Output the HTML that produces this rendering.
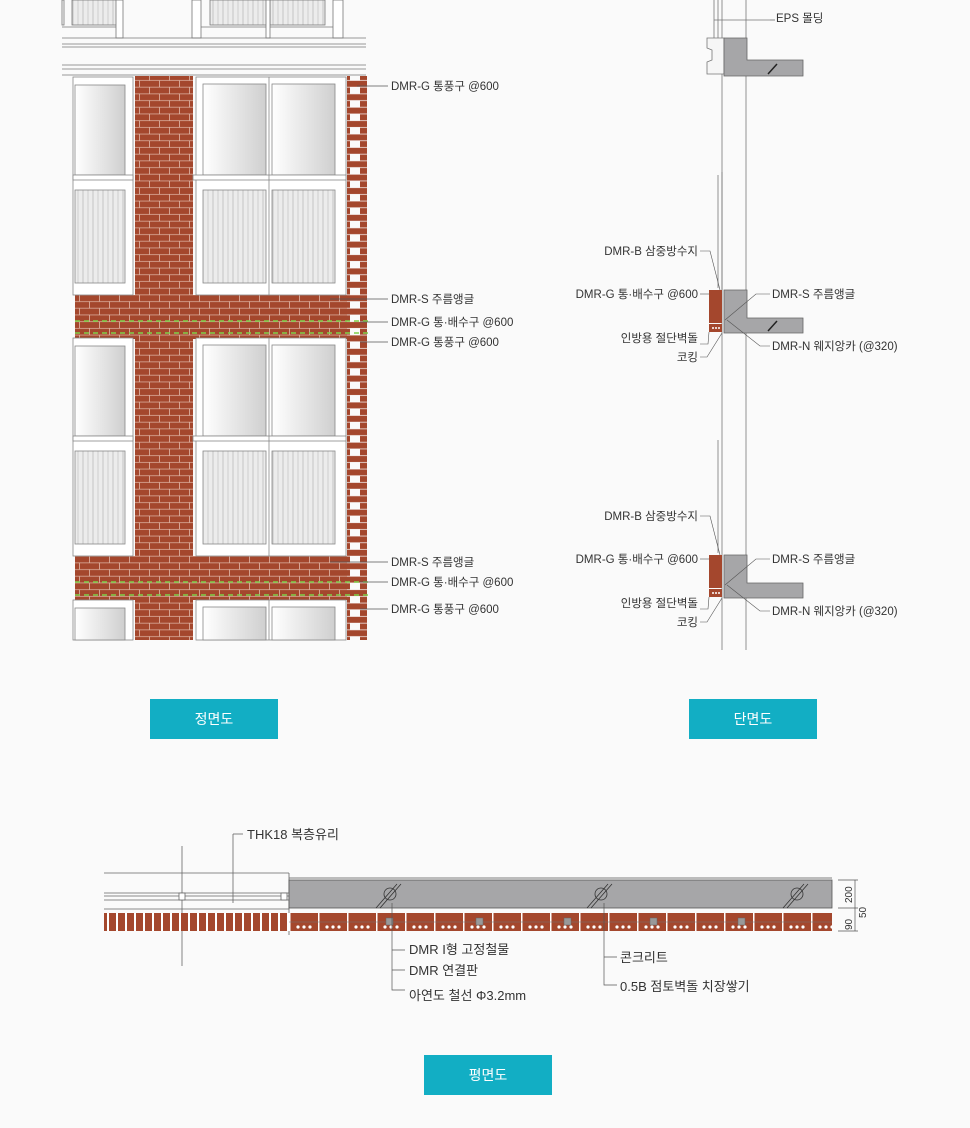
<!DOCTYPE html>
<html><head><meta charset="utf-8"><style>
html,body{margin:0;padding:0;background:#fafafa;}
svg{display:block;font-family:"Liberation Sans","Noto Sans CJK KR",sans-serif;}
.l{font-size:11.5px;fill:#333;}
.btn{font-size:14px;fill:#fff;}
</style></head><body>
<svg width="970" height="1128" viewBox="0 0 970 1128" xmlns="http://www.w3.org/2000/svg">
<defs>
<pattern id="brick" width="40" height="13.4" patternUnits="userSpaceOnUse">
<rect width="40" height="13.4" fill="#e2b9aa"/>
<rect x="0" y="0.4" width="19.2" height="6" fill="#a4472d"/>
<rect x="20" y="0.4" width="19.2" height="6" fill="#a4472d"/>
<rect x="-10" y="7.1" width="19.2" height="6" fill="#a4472d"/>
<rect x="10" y="7.1" width="19.2" height="6" fill="#a4472d"/>
<rect x="30" y="7.1" width="19.2" height="6" fill="#a4472d"/>
</pattern>
<pattern id="tooth" width="20" height="13.4" patternUnits="userSpaceOnUse">
<rect x="0" y="0.4" width="20" height="6" fill="#a4472d"/>
<rect x="0" y="7.1" width="10" height="6" fill="#a4472d"/>
</pattern>
<linearGradient id="gl" x1="0" x2="1"><stop offset="0" stop-color="#fff"/><stop offset="1" stop-color="#cfcfcf"/></linearGradient>
<pattern id="rail" width="10" height="10" patternUnits="userSpaceOnUse"><rect width="10" height="10" fill="#ececec"/><line x1="3" y1="0" x2="3" y2="10" stroke="#aaa" stroke-width="0.6"/><line x1="8" y1="0" x2="8" y2="10" stroke="#bbb" stroke-width="0.6"/></pattern>
<pattern id="pb" width="29" height="18" patternUnits="userSpaceOnUse"><rect width="29" height="18" fill="#fff"/><rect x="0.5" width="27.5" height="18" fill="#a4472d"/><circle cx="8" cy="9" r="1.6" fill="#fff"/><circle cx="14" cy="9" r="1.6" fill="#fff"/><circle cx="20" cy="9" r="1.6" fill="#fff"/></pattern>
<pattern id="pb2" width="9" height="18" patternUnits="userSpaceOnUse"><rect width="9" height="18" fill="#fff"/><rect x="1" width="7" height="18" fill="#a4472d"/></pattern>
</defs>

<!-- ===== FRONT ELEVATION ===== -->
<g stroke="#777" stroke-width="0.8" fill="none">
<rect x="62" y="0" width="2" height="25"/>
<rect x="72" y="0" width="45" height="25" fill="url(#rail)"/>
<line x1="62" y1="27" x2="116" y2="27"/>
<rect x="116" y="0" width="7" height="38" fill="#fff"/>
<rect x="192" y="0" width="9" height="38" fill="#fff"/>
<rect x="210" y="0" width="57" height="25" fill="url(#rail)"/>
<rect x="270" y="0" width="55" height="25" fill="url(#rail)"/>
<line x1="201" y1="27" x2="335" y2="27"/>
<rect x="266" y="0" width="4" height="38" fill="#fff"/>
<rect x="333" y="0" width="10" height="38" fill="#fff"/>
<line x1="62" y1="38" x2="366" y2="38"/><line x1="62" y1="44" x2="366" y2="44"/><line x1="62" y1="47" x2="366" y2="47"/>
<line x1="62" y1="65" x2="366" y2="65"/><line x1="62" y1="69" x2="366" y2="69"/><line x1="62" y1="75" x2="366" y2="75"/>
</g>
<rect x="135" y="76" width="58" height="564" fill="url(#brick)"/>
<rect x="347" y="76" width="20" height="564" fill="url(#tooth)"/>
<rect x="75" y="295" width="272" height="44" fill="url(#brick)"/>
<rect x="75" y="556" width="272" height="44" fill="url(#brick)"/>
<g stroke="#888" stroke-width="0.8">
<rect x="73" y="77" width="60" height="218" fill="#fff"/>
<rect x="75" y="85" width="50" height="90" fill="url(#gl)"/>
<rect x="73" y="175" width="60" height="5" fill="#fff"/>
<rect x="75" y="190" width="50" height="93" fill="url(#rail)"/>
<rect x="196" y="77" width="150" height="218" fill="#fff"/>
<rect x="203" y="84" width="63" height="91" fill="url(#gl)"/>
<rect x="272" y="84" width="63" height="91" fill="url(#gl)"/>
<rect x="193" y="175" width="153" height="5" fill="#fff"/>
<rect x="203" y="190" width="63" height="93" fill="url(#rail)"/>
<rect x="272" y="190" width="63" height="93" fill="url(#rail)"/>
<line x1="269" y1="77" x2="269" y2="295"/>
</g>
<g stroke="#888" stroke-width="0.8">
<rect x="73" y="338" width="60" height="218" fill="#fff"/>
<rect x="75" y="346" width="50" height="90" fill="url(#gl)"/>
<rect x="73" y="436" width="60" height="5" fill="#fff"/>
<rect x="75" y="451" width="50" height="93" fill="url(#rail)"/>
<rect x="196" y="338" width="150" height="218" fill="#fff"/>
<rect x="203" y="345" width="63" height="91" fill="url(#gl)"/>
<rect x="272" y="345" width="63" height="91" fill="url(#gl)"/>
<rect x="193" y="436" width="153" height="5" fill="#fff"/>
<rect x="203" y="451" width="63" height="93" fill="url(#rail)"/>
<rect x="272" y="451" width="63" height="93" fill="url(#rail)"/>
<line x1="269" y1="338" x2="269" y2="556"/>
<rect x="73" y="600" width="60" height="40" fill="#fff"/>
<rect x="75" y="608" width="50" height="32" fill="url(#gl)"/>
<rect x="196" y="600" width="150" height="40" fill="#fff"/>
<rect x="203" y="607" width="63" height="33" fill="url(#gl)"/>
<rect x="272" y="607" width="63" height="33" fill="url(#gl)"/>
<line x1="269" y1="600" x2="269" y2="640"/>
</g>
<g stroke="#7ed04a" stroke-width="1.5" stroke-dasharray="5,4">
<line x1="75" y1="321" x2="370" y2="321"/><line x1="75" y1="333" x2="370" y2="333"/>
<line x1="75" y1="582" x2="370" y2="582"/><line x1="75" y1="595" x2="370" y2="595"/>
</g>
<g stroke="#555" stroke-width="0.7">
<line x1="357" y1="86" x2="388" y2="86"/>
<line x1="330" y1="299" x2="388" y2="299"/>
<line x1="360" y1="322" x2="388" y2="322"/>
<line x1="360" y1="342" x2="388" y2="342"/>
<line x1="330" y1="562" x2="388" y2="562"/>
<line x1="360" y1="582" x2="388" y2="582"/>
<line x1="360" y1="609" x2="388" y2="609"/>
</g>
<g class="l">
<text x="391" y="90">DMR-G 통풍구 @600</text>
<text x="391" y="303">DMR-S 주름앵글</text>
<text x="391" y="326">DMR-G 통·배수구 @600</text>
<text x="391" y="346">DMR-G 통풍구 @600</text>
<text x="391" y="566">DMR-S 주름앵글</text>
<text x="391" y="586">DMR-G 통·배수구 @600</text>
<text x="391" y="613">DMR-G 통풍구 @600</text>
</g>

<!-- ===== SECTION ===== -->
<g stroke="#777" stroke-width="0.8" fill="none">
<line x1="722" y1="0" x2="722" y2="650"/>
<line x1="746" y1="0" x2="746" y2="650"/>
<line x1="714" y1="0" x2="714" y2="20"/><line x1="718" y1="0" x2="718" y2="38"/>
<path d="M714 20 L714 38 M714 20 L770 20"/>
<line x1="718" y1="175" x2="718" y2="288"/><line x1="722" y1="172" x2="722" y2="290"/>
<line x1="718" y1="440" x2="718" y2="553"/>
</g>
<path d="M707 38 L724 38 L724 74 L707 74 L707 62 L712 60 L712 50 L707 48 Z" fill="#f6f6f6" stroke="#777" stroke-width="0.8"/>
<path d="M724 38 L747 38 L747 60 L803 60 L803 76 L724 76 Z" fill="#a6a6a8" stroke="#666" stroke-width="0.8"/>
<line x1="768" y1="74" x2="777" y2="64" stroke="#222" stroke-width="1.5"/>
<line x1="770" y1="20" x2="775" y2="20" stroke="#555" stroke-width="0.7"/>
<text class="l" x="776" y="22">EPS 몰딩</text>

<g>
<path d="M724 290 L747 290 L747 318 L803 318 L803 333 L724 333 Z" fill="#a6a6a8" stroke="#666" stroke-width="0.8"/>
<line x1="768" y1="331" x2="777" y2="321" stroke="#222" stroke-width="1.5"/>
<rect x="709" y="290" width="13" height="33" fill="#a4472d"/>
<rect x="709" y="324" width="13" height="8" fill="#a4472d"/>
<g fill="#fff"><circle cx="713" cy="328" r="1"/><circle cx="716" cy="328" r="1"/><circle cx="719" cy="328" r="1"/></g>
<g stroke="#555" stroke-width="0.6" fill="none">
<path d="M700 251 L710 251 L720 290"/>
<path d="M700 294 L709 294"/>
<path d="M770 294 L756 294 L725 320"/>
<path d="M700 344 L708 344 L709 332"/>
<path d="M700 357 L707 357 L722 333"/>
<path d="M770 346 L760 346 L727 320"/>
</g>
</g>
<g class="l" text-anchor="end">
<text x="698" y="255">DMR-B 삼중방수지</text>
<text x="698" y="298">DMR-G 통·배수구 @600</text>
<text x="698" y="342">인방용 절단벽돌</text>
<text x="698" y="361">코킹</text>
</g>
<g class="l"><text x="772" y="298">DMR-S 주름앵글</text><text x="772" y="350">DMR-N 웨지앙카 (@320)</text></g>

<g transform="translate(0,265)">
<path d="M724 290 L747 290 L747 318 L803 318 L803 333 L724 333 Z" fill="#a6a6a8" stroke="#666" stroke-width="0.8"/>
<rect x="709" y="290" width="13" height="33" fill="#a4472d"/>
<rect x="709" y="324" width="13" height="8" fill="#a4472d"/>
<g fill="#fff"><circle cx="713" cy="328" r="1"/><circle cx="716" cy="328" r="1"/><circle cx="719" cy="328" r="1"/></g>
<g stroke="#555" stroke-width="0.6" fill="none">
<path d="M700 251 L710 251 L720 290"/>
<path d="M700 294 L709 294"/>
<path d="M770 294 L756 294 L725 320"/>
<path d="M700 344 L708 344 L709 332"/>
<path d="M700 357 L707 357 L722 333"/>
<path d="M770 346 L760 346 L727 320"/>
</g>
<g class="l" text-anchor="end">
<text x="698" y="255">DMR-B 삼중방수지</text>
<text x="698" y="298">DMR-G 통·배수구 @600</text>
<text x="698" y="342">인방용 절단벽돌</text>
<text x="698" y="361">코킹</text>
</g>
<g class="l"><text x="772" y="298">DMR-S 주름앵글</text><text x="772" y="350">DMR-N 웨지앙카 (@320)</text></g>
</g>

<!-- buttons -->
<rect x="150" y="699" width="128" height="40" fill="#12aec4"/>
<text class="btn" x="214" y="724" text-anchor="middle">정면도</text>
<rect x="689" y="699" width="128" height="40" fill="#12aec4"/>
<text class="btn" x="753" y="724" text-anchor="middle">단면도</text>
<rect x="424" y="1055" width="128" height="40" fill="#12aec4"/>
<text class="btn" x="488" y="1080" text-anchor="middle">평면도</text>

<!-- ===== PLAN ===== -->
<g stroke="#666" stroke-width="0.8" fill="none">
<line x1="104" y1="873" x2="289" y2="873"/>
<line x1="104" y1="893" x2="289" y2="893"/>
<line x1="104" y1="896" x2="289" y2="896"/>
<line x1="104" y1="900" x2="289" y2="900"/>
<line x1="104" y1="909" x2="289" y2="909"/>
<line x1="289" y1="873" x2="289" y2="935"/>
<line x1="182" y1="846" x2="182" y2="966"/>
<line x1="233" y1="834" x2="233" y2="903"/>
<path d="M233 834 L243 834"/>
<rect x="179" y="893" width="6" height="7" fill="#fff"/>
<rect x="281" y="893" width="6" height="7" fill="#fff"/>
</g>
<rect x="289" y="880" width="543" height="28" fill="#a6a6a8" stroke="#555" stroke-width="0.8"/>
<line x1="289" y1="878" x2="832" y2="878" stroke="#555" stroke-width="0.8"/>
<g stroke="#333" stroke-width="0.8" fill="none">
<path d="M376 908 L397 884 M380 908 L401 884"/><circle cx="390" cy="894" r="6"/>
<path d="M587 908 L608 884 M591 908 L612 884"/><circle cx="601" cy="894" r="6"/>
<path d="M783 908 L804 884 M787 908 L808 884"/><circle cx="797" cy="894" r="6"/>
</g>
<rect x="104" y="913" width="185" height="18" fill="url(#pb2)"/>
<rect x="289" y="913" width="543" height="18" fill="url(#pb)"/>
<line x1="289" y1="922" x2="832" y2="922" stroke="#777" stroke-width="0.6"/>
<g fill="#999" stroke="#666" stroke-width="0.5">
<rect x="386" y="918" width="7" height="7"/><rect x="476" y="918" width="7" height="7"/><rect x="564" y="918" width="7" height="7"/><rect x="650" y="918" width="7" height="7"/><rect x="738" y="918" width="7" height="7"/>
</g>
<g stroke="#555" stroke-width="0.7" fill="none">
<line x1="838" y1="880" x2="858" y2="880"/><line x1="838" y1="908" x2="858" y2="908"/><line x1="838" y1="931" x2="858" y2="931"/>
<line x1="855" y1="880" x2="855" y2="931"/>
<path d="M392 903 L392 990 L405 990 M392 950 L405 950 M392 970 L405 970"/>
<path d="M604 903 L604 985 L617 985 M604 957 L617 957"/>
</g>
<g class="l" style="font-size:10px">
<text transform="translate(852,903) rotate(-90)">200</text>
<text transform="translate(866,918) rotate(-90)">50</text>
<text transform="translate(852,930) rotate(-90)">90</text>
</g>
<g class="l" style="font-size:13px">
<text x="247" y="839">THK18 복층유리</text>
<text x="409" y="954">DMR I형 고정철물</text>
<text x="409" y="975">DMR 연결판</text>
<text x="409" y="1000">아연도 철선 Φ3.2mm</text>
<text x="620" y="962">콘크리트</text>
<text x="620" y="991">0.5B 점토벽돌 치장쌓기</text>
</g>
</svg>
</body></html>
